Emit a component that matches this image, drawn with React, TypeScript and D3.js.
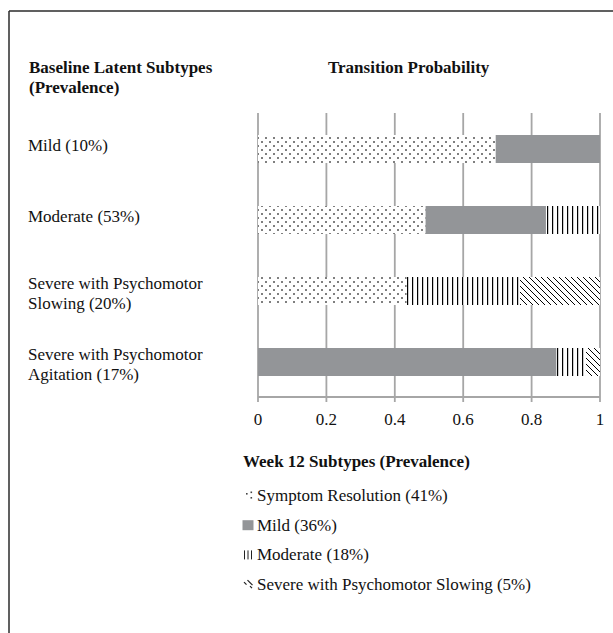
import React from "react";
import * as d3 from "d3";

const baselineCategories = ["Mild", "Moderate", "SevereSlowing", "SevereAgitation"];
const baselineLabels = [
  ["Mild (10%)"],
  ["Moderate (53%)"],
  ["Severe with Psychomotor", "Slowing (20%)"],
  ["Severe with Psychomotor", "Agitation (17%)"],
];
const week12Keys = ["resolution", "mild", "moderate", "slowing"];
const week12Labels = [
  "Symptom Resolution (41%)",
  "Mild (36%)",
  "Moderate (18%)",
  "Severe with Psychomotor Slowing (5%)",
];
const resolutionValues = [0.695, 0.49, 0.435, 0];
const mildValues = [0.305, 0.352, 0, 0.873];
const moderateValues = [0, 0.158, 0.331, 0.086];
const slowingValues = [0, 0, 0.234, 0.041];
const tickValues = [0, 0.2, 0.4, 0.6, 0.8, 1];

const W = 613;
const H = 633;
const FONT = "'Liberation Serif', 'Times New Roman', serif";

export default function App() {
  const x = d3.scaleLinear().domain([0, 1]).range([258, 600]);
  const y = d3
    .scaleBand<string>()
    .domain(baselineCategories)
    .range([113.5, 397.5])
    .paddingInner(0.606)
    .paddingOuter(0.303);

  const rows = baselineCategories.map((c, i) => ({
    cat: c,
    resolution: resolutionValues[i],
    mild: mildValues[i],
    moderate: moderateValues[i],
    slowing: slowingValues[i],
  }));
  const stack = d3.stack<any>().keys(week12Keys)(rows);
  const fills: Record<string, string> = {
    resolution: "url(#dots)",
    mild: "#939598",
    moderate: "url(#vlines)",
    slowing: "url(#diag)",
  };
  const axisY = 397;

  return (
    <svg
      width={W}
      height={H}
      style={{ position: "absolute", left: 0, top: 0, background: "#fff" }}
      fontFamily={FONT}
    >
      <defs>
        <pattern id="dots" patternUnits="userSpaceOnUse" width={8} height={8}>
          <rect width={8} height={8} fill="#fff" />
          <rect x={1} y={1} width={2} height={2} fill="#7f7f7f" />
          <rect x={5} y={5} width={2} height={2} fill="#7f7f7f" />
        </pattern>
        <pattern id="vlines" patternUnits="userSpaceOnUse" width={5} height={5}>
          <rect width={5} height={5} fill="#fff" />
          <rect x={2} y={0} width={1.2} height={5} fill="#000" />
        </pattern>
        <pattern id="diag" patternUnits="userSpaceOnUse" width={6} height={6}>
          <rect width={6} height={6} fill="#fff" />
          <path d="M-1,-1 L7,7 M-1,5 L1,7 M5,-1 L7,1" stroke="#000" strokeWidth={1} />
        </pattern>
      </defs>

      {/* frame */}
      <line x1={9} y1={11} x2={W} y2={11} stroke="#2b2b2b" strokeWidth={1.5} />
      <line x1={9} y1={11} x2={9} y2={H} stroke="#2b2b2b" strokeWidth={1.5} />

      {/* headers */}
      <text x={29} y={73} fontSize={17} fontWeight="bold" fill="#111">
        Baseline Latent Subtypes
      </text>
      <text x={29} y={93} fontSize={17} fontWeight="bold" fill="#111">
        (Prevalence)
      </text>
      <text x={328} y={73} fontSize={17} fontWeight="bold" fill="#111">
        Transition Probability
      </text>

      {/* gridlines */}
      {tickValues.map((t) => (
        <line
          key={"g" + t}
          x1={x(t)}
          x2={x(t)}
          y1={113}
          y2={axisY + 5}
          stroke="#a6a6a6"
          strokeWidth={1.8}
        />
      ))}
      <line x1={x(0)} x2={x(1)} y1={axisY} y2={axisY} stroke="#a6a6a6" strokeWidth={1.8} />

      {/* bars */}
      {stack.map((s) =>
        s.map((d, i) =>
          d[1] - d[0] > 0 ? (
            <rect
              key={s.key + i}
              x={x(d[0])}
              width={x(d[1]) - x(d[0])}
              y={y(baselineCategories[i])}
              height={y.bandwidth()}
              fill={fills[s.key]}
            />
          ) : null
        )
      )}

      {/* tick labels */}
      {tickValues.map((t) => (
        <text key={"t" + t} x={x(t)} y={425} fontSize={17} textAnchor="middle" fill="#111">
          {d3.format("~g")(t)}
        </text>
      ))}

      {/* baseline labels */}
      {baselineLabels.map((lines, i) => {
        const c = (y(baselineCategories[i]) as number) + y.bandwidth() / 2;
        const start = lines.length === 1 ? c + 1.5 : c - 2;
        return lines.map((ln, j) => (
          <text key={"l" + i + j} x={28} y={start + j * 19.5} fontSize={17} fill="#111">
            {ln}
          </text>
        ));
      })}

      {/* legend */}
      <text x={243} y={467} fontSize={17} fontWeight="bold" fill="#111">
        Week 12 Subtypes (Prevalence)
      </text>
      {week12Labels.map((lab, i) => {
        const by = 501 + i * 29.7;
        const k = week12Keys[i];
        let sw: React.ReactNode = null;
        if (k === "resolution") {
          sw = (
            <g>
              <rect x={246} y={by - 8} width={1.6} height={1.6} fill="#444" />
              <rect x={250.5} y={by - 9.5} width={1.6} height={1.6} fill="#444" />
              <rect x={250.5} y={by - 4} width={1.6} height={1.6} fill="#444" />
            </g>
          );
        } else if (k === "mild") {
          sw = <rect x={242.5} y={by - 10.5} width={11} height={10} fill="#939598" />;
        } else if (k === "moderate") {
          sw = (
            <g>
              {[244, 247.5, 251].map((xx) => (
                <rect key={xx} x={xx} y={by - 10} width={1} height={9} fill="#222" />
              ))}
            </g>
          );
        } else {
          sw = (
            <g stroke="#222" strokeWidth={1.2}>
              <line x1={244} y1={by - 8} x2={246.5} y2={by - 5.5} />
              <line x1={247.5} y1={by - 10} x2={252.5} y2={by - 5} />
              <line x1={250} y1={by - 4} x2={252} y2={by - 2} />
            </g>
          );
        }
        return (
          <g key={"lg" + i}>
            {sw}
            <text x={257} y={by} fontSize={17} fill="#111">
              {lab}
            </text>
          </g>
        );
      })}
    </svg>
  );
}
